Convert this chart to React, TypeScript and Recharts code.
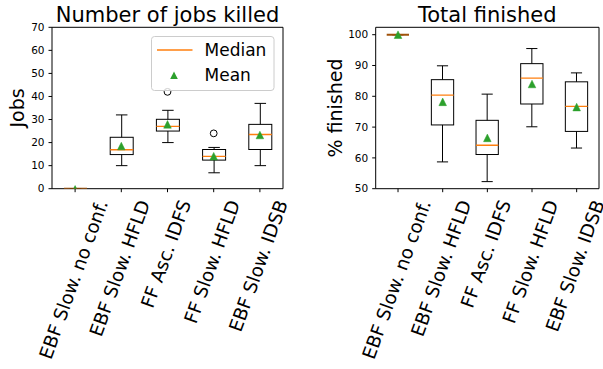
import React from "react";
import {
  ComposedChart,
  Bar,
  Scatter,
  XAxis,
  YAxis,
  CartesianGrid,
  Legend,
} from "recharts";

const categories = [
  "EBF Slow. no conf.",
  "EBF Slow. HFLD",
  "FF Asc. IDFS",
  "FF Slow. HFLD",
  "EBF Slow. IDSB",
];

// Number of jobs killed
const killedWhiskerLow = [0, 10, 20, 6.9, 10];
const killedQ1 = [0, 14.8, 25, 12.4, 17];
const killedMedian = [0, 16.9, 27, 14, 23.5];
const killedQ3 = [0, 22.3, 30.1, 17, 27.9];
const killedWhiskerHigh = [0, 32, 34, 17.9, 37];
const killedMean = [0, 18.5, 27.9, 14.1, 23.3];
const killedOutlier = [null, null, 42, 24, null];
const killedTicks = [0, 10, 20, 30, 40, 50, 60, 70];

// Total finished (%)
const finishedWhiskerLow = [100, 58.7, 52.3, 70.1, 63.2];
const finishedQ1 = [100, 70.7, 61.1, 77.5, 68.6];
const finishedMedian = [100, 80.4, 64.1, 85.9, 76.7];
const finishedQ3 = [100, 85.4, 72.2, 90.6, 84.7];
const finishedWhiskerHigh = [100, 89.9, 80.7, 95.5, 87.6];
const finishedMean = [100, 78.2, 66.5, 84.0, 76.5];
const finishedOutlier = [null, null, null, null, null];
const finishedTicks = [50, 60, 70, 80, 90, 100];

const FONT = "DejaVu Sans";
const ORANGE = "#ff7f0e";
const GREEN = "#2ca02c";

const build = (lo, q1, med, q3, hi, mean, out) =>
  categories.map((name, i) => ({
    name,
    range: [lo[i], hi[i]],
    whiskerLow: lo[i],
    q1: q1[i],
    median: med[i],
    q3: q3[i],
    whiskerHigh: hi[i],
    mean: mean[i],
    outlier: out[i],
  }));

const killedData = build(
  killedWhiskerLow, killedQ1, killedMedian, killedQ3, killedWhiskerHigh, killedMean, killedOutlier
);
const finishedData = build(
  finishedWhiskerLow, finishedQ1, finishedMedian, finishedQ3, finishedWhiskerHigh, finishedMean, finishedOutlier
);

// box drawn inside the whisker range bar, positions taken from the bar's own y/height
const BoxShape = (props: any) => {
  const { x, y, width, height, payload } = props;
  const hi = payload.whiskerHigh;
  const lo = payload.whiskerLow;
  const py = (v: number) => (hi === lo ? y : y + (height * (hi - v)) / (hi - lo));
  const cx = x + width / 2;
  const cap = width / 4;
  const flat = hi === lo;
  return (
    <g>
      <line x1={cx} x2={cx} y1={py(hi)} y2={py(payload.q3)} stroke="#000" strokeWidth={1} />
      <line x1={cx} x2={cx} y1={py(payload.q1)} y2={py(lo)} stroke="#000" strokeWidth={1} />
      <line x1={cx - cap} x2={cx + cap} y1={py(hi)} y2={py(hi)} stroke="#000" strokeWidth={1} />
      <line x1={cx - cap} x2={cx + cap} y1={py(lo)} y2={py(lo)} stroke="#000" strokeWidth={1} />
      <rect
        x={x}
        y={py(payload.q3)}
        width={width}
        height={py(payload.q1) - py(payload.q3)}
        fill="none"
        stroke="#000"
        strokeWidth={1}
      />
      <line
        x1={x}
        x2={x + width}
        y1={py(payload.median)}
        y2={py(payload.median)}
        stroke={flat ? "#a0520a" : ORANGE}
        strokeWidth={flat ? 2 : 1.3}
      />
    </g>
  );
};

const MeanMarker = (props: any) => {
  const { cx, cy, payload, floor } = props;
  if (cx == null || cy == null || isNaN(cy)) return <g />;
  const s = 3.8;
  if (floor !== undefined && payload.mean <= floor) {
    // clipped by the axes bottom, like the original
    return (
      <polygon
        points={`${cx},${cy - s} ${cx - s / 2},${cy} ${cx + s / 2},${cy}`}
        fill={GREEN}
      />
    );
  }
  return (
    <polygon
      points={`${cx},${cy - s} ${cx - s},${cy + s} ${cx + s},${cy + s}`}
      fill={GREEN}
      stroke={GREEN}
      strokeWidth={0.5}
    />
  );
};

const OutlierMarker = (props: any) => {
  const { cx, cy, payload } = props;
  if (payload.outlier == null || cy == null || isNaN(cy)) return <g />;
  return <circle cx={cx} cy={cy} r={3.4} fill="none" stroke="#000" strokeWidth={1} />;
};

let ctx: CanvasRenderingContext2D | null = null;
const measure = (text: string, font: string) => {
  if (!ctx) ctx = document.createElement("canvas").getContext("2d");
  if (!ctx) return text.length * 10;
  ctx.font = font;
  return ctx.measureText(text).width;
};

const XTick = (props: any) => {
  const { x, y, payload } = props;
  const fs = 18.5;
  const L = measure(payload.value, `${fs}px "${FONT}"`);
  const a = (70 * Math.PI) / 180;
  const c = Math.cos(a);
  const s = Math.sin(a);
  const asc = 0.76 * fs;
  const desc = 0.24 * fs;
  const ex = x + (c * L + s * asc - s * desc) / 2;
  const ey = y + 4 + c * asc;
  return (
    <text
      x={ex}
      y={ey}
      transform={`rotate(-70 ${ex} ${ey})`}
      textAnchor="end"
      fontSize={fs}
      fontFamily={FONT}
      fill="#000"
    >
      {payload.value}
    </text>
  );
};

const LegendBox = () => (
  <svg width={124} height={56} style={{ display: "block" }}>
    <rect x={0.5} y={0.5} width={122.5} height={54} rx={3} fill="#fff" fillOpacity={0.8} stroke="#cccccc" />
    <line x1={6} x2={41.5} y1={14} y2={14} stroke={ORANGE} strokeWidth={1.3} />
    <text x={53.5} y={19.8} fontSize={17} fontFamily={FONT} fill="#000">
      Median
    </text>
    <polygon points="23,35.5 19.2,43.1 26.8,43.1" fill={GREEN} />
    <text x={53.5} y={45} fontSize={17} fontFamily={FONT} fill="#000">
      Mean
    </text>
  </svg>
);

const axisStroke = { stroke: "#000", strokeWidth: 1 };
const yTick = { fill: "#000", fontSize: 10.5, fontFamily: FONT };

const BoxChart = ({ data, width, margin, domain, ticks, barSize, floor, legend }: any) => (
  <ComposedChart width={width} height={369} data={data} margin={margin}>
    {/* top and right spines */}
    <CartesianGrid
      stroke="#000"
      strokeWidth={1}
      horizontalCoordinatesGenerator={(p: any) => [p?.offset?.top ?? margin.top]}
      verticalCoordinatesGenerator={(p: any) => [
        p?.offset ? p.offset.left + p.offset.width : width - margin.right,
      ]}
    />
    <XAxis
      dataKey="name"
      type="category"
      interval={0}
      height={170}
      tickSize={3.5}
      tickMargin={2}
      axisLine={axisStroke}
      tickLine={axisStroke}
      tick={XTick}
    />
    <YAxis
      type="number"
      domain={domain}
      ticks={ticks}
      allowDataOverflow
      width={40}
      tickSize={3.5}
      tickMargin={4}
      axisLine={axisStroke}
      tickLine={axisStroke}
      tick={yTick}
    />
    <Bar dataKey="range" barSize={barSize} shape={BoxShape} isAnimationActive={false} zIndex={600} />
    <Scatter dataKey="outlier" shape={OutlierMarker} isAnimationActive={false} zIndex={700} />
    <Scatter
      dataKey="mean"
      shape={(p: any) => <MeanMarker {...p} floor={floor} />}
      isAnimationActive={false}
      zIndex={700}
    />
    {legend && (
      <Legend
        layout="vertical"
        align="center"
        verticalAlign="middle"
        wrapperStyle={{ position: "absolute", left: 150.7, top: 35.5, width: 124, height: 56 }}
        content={() => <LegendBox />}
      />
    )}
  </ComposedChart>
);

export default function App() {
  return (
    <div
      style={{
        position: "absolute",
        left: 0,
        top: 0,
        width: 603,
        height: 369,
        background: "#fff",
        fontFamily: FONT,
        overflow: "hidden",
      }}
    >
      <div style={{ position: "absolute", left: 0, top: 0 }}>
        <BoxChart
          data={killedData}
          width={300}
          margin={{ top: 27.3, right: 17, bottom: 10.3, left: 12 }}
          domain={[0, 70]}
          ticks={killedTicks}
          barSize={23}
          floor={0}
          legend
        />
      </div>
      <div style={{ position: "absolute", left: 300, top: 0 }}>
        <BoxChart
          data={finishedData}
          width={303}
          margin={{ top: 27.3, right: 4, bottom: 10.3, left: 35.7 }}
          domain={[50, 102.4]}
          ticks={finishedTicks}
          barSize={22.3}
          legend={false}
        />
      </div>
      <svg
        width={603}
        height={369}
        style={{ position: "absolute", left: 0, top: 0, pointerEvents: "none" }}
      >
        <text x={167.5} y={22} textAnchor="middle" fontSize={21} fontFamily={FONT} fill="#000">
          Number of jobs killed
        </text>
        <text x={487.3} y={22} textAnchor="middle" fontSize={21} fontFamily={FONT} fill="#000">
          Total finished
        </text>
        <text
          x={23.5}
          y={108}
          transform="rotate(-90 23.5 108)"
          textAnchor="middle"
          fontSize={19}
          fontFamily={FONT}
          fill="#000"
        >
          Jobs
        </text>
        <text
          x={341.7}
          y={108}
          transform="rotate(-90 341.7 108)"
          textAnchor="middle"
          fontSize={19}
          fontFamily={FONT}
          fill="#000"
        >
          % finished
        </text>
      </svg>
    </div>
  );
}
